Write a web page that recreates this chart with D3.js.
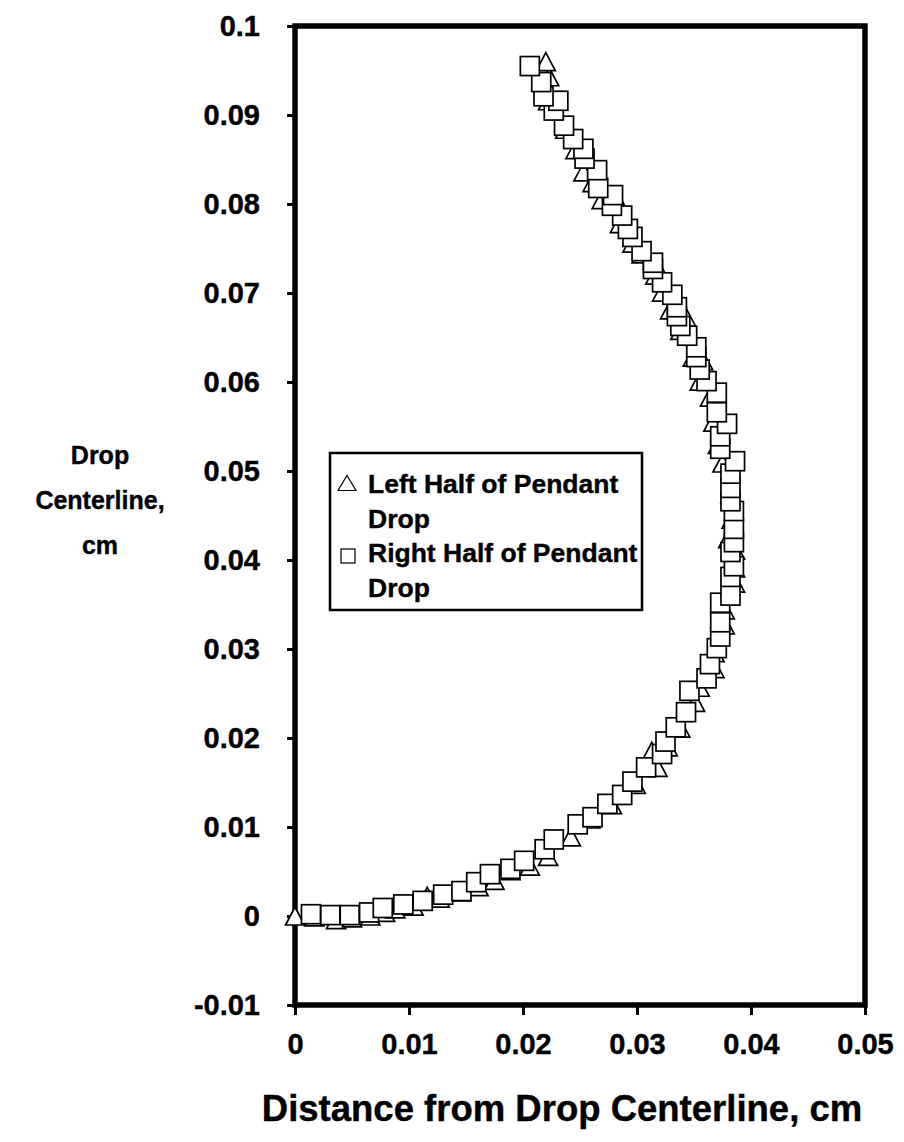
<!DOCTYPE html>
<html>
<head>
<meta charset="utf-8">
<script src="https://cdn.jsdelivr.net/npm/d3@7/dist/d3.min.js"></script>
<style>
  html, body { margin: 0; padding: 0; background: #fff; }
  svg { display: block; }
  text { font-family: "Liberation Sans", Arial, sans-serif; font-weight: bold; fill: #000; stroke: #000; stroke-width: 0.4px; }
</style>
</head>
<body>
<svg id="chart" width="904" height="1142"></svg>
<script>
// Pendant drop profile: radial distance (cm) vs height along the drop centerline (cm)
const xTickValues = [0, 0.01, 0.02, 0.03, 0.04, 0.05];
const xTickLabels = ["0", "0.01", "0.02", "0.03", "0.04", "0.05"];
const yTickValues = [-0.01, 0, 0.01, 0.02, 0.03, 0.04, 0.05, 0.06, 0.07, 0.08, 0.09, 0.1];
const yTickLabels = ["-0.01", "0", "0.01", "0.02", "0.03", "0.04", "0.05", "0.06", "0.07", "0.08", "0.09", "0.1"];

const seriesNames = ["Left Half of Pendant Drop", "Right Half of Pendant Drop"];

// Left half of the drop (triangles)
const leftX = [0, 0.0017, 0.0036, 0.0050, 0.0066, 0.0079, 0.0088, 0.0104, 0.0116, 0.0127,
  0.0146, 0.0161, 0.0175, 0.0189, 0.0206, 0.0222, 0.0242, 0.0259, 0.0278, 0.0299,
  0.0318, 0.0313, 0.0327, 0.0338, 0.0351, 0.0355, 0.0368, 0.0368, 0.0377, 0.0377,
  0.0386, 0.0386, 0.0386, 0.0380, 0.0383, 0.0382, 0.0375, 0.0371, 0.0367, 0.0364,
  0.0355, 0.0358, 0.0349, 0.0338, 0.0343, 0.0329, 0.0322, 0.0316, 0.0316, 0.0304,
  0.0296, 0.0285, 0.0269, 0.0281, 0.0261, 0.0253, 0.0246, 0.0237, 0.0222, 0.0223,
  0.0220];
const leftY = [0, -0.0001, -0.0004, -0.0002, 0.0000, 0.0004, 0.0008, 0.0011, 0.0022, 0.0020,
  0.0027, 0.0033, 0.0040, 0.0051, 0.0056, 0.0067, 0.0089, 0.0109, 0.0125, 0.0148,
  0.0167, 0.0185, 0.0190, 0.0211, 0.0240, 0.0257, 0.0278, 0.0296, 0.0327, 0.0344,
  0.0374, 0.0391, 0.0411, 0.0424, 0.0446, 0.0474, 0.0509, 0.0530, 0.0555, 0.0583,
  0.0601, 0.0624, 0.0628, 0.0658, 0.0673, 0.0681, 0.0701, 0.0720, 0.0733, 0.0744,
  0.0756, 0.0778, 0.0805, 0.0808, 0.0824, 0.0836, 0.0861, 0.0884, 0.0916, 0.0943,
  0.0960];

// Right half of the drop (squares)
const rightX = [0.0014, 0.0031, 0.0048, 0.0065, 0.0077, 0.0095, 0.0112, 0.0130, 0.0146, 0.0159,
  0.0171, 0.0189, 0.0201, 0.0219, 0.0227, 0.0248, 0.0261, 0.0274, 0.0287, 0.0296,
  0.0308, 0.0322, 0.0325, 0.0334, 0.0343, 0.0346, 0.0361, 0.0364, 0.0370, 0.0373,
  0.0373, 0.0373, 0.0382, 0.0382, 0.0385, 0.0382, 0.0385, 0.0385, 0.0385, 0.0382,
  0.0382, 0.0382, 0.0386, 0.0373, 0.0373, 0.0379, 0.0370, 0.0370, 0.0361, 0.0355,
  0.0352, 0.0352, 0.0344, 0.0338, 0.0335, 0.0335, 0.0331, 0.0322, 0.0314, 0.0314,
  0.0304, 0.0296, 0.0292, 0.0287, 0.0278, 0.0279, 0.0266, 0.0265, 0.0254, 0.0253,
  0.0244, 0.0236, 0.0227, 0.0231, 0.0218, 0.0216, 0.0206];
const rightY = [0.0002, 0.0001, 0.0001, 0.0004, 0.0009, 0.0013, 0.0017, 0.0024, 0.0028, 0.0038,
  0.0047, 0.0053, 0.0062, 0.0075, 0.0086, 0.0103, 0.0111, 0.0126, 0.0136, 0.0151,
  0.0167, 0.0182, 0.0196, 0.0212, 0.0229, 0.0253, 0.0267, 0.0283, 0.0301, 0.0314,
  0.0330, 0.0352, 0.0360, 0.0381, 0.0393, 0.0409, 0.0420, 0.0435, 0.0455, 0.0466,
  0.0481, 0.0497, 0.0511, 0.0525, 0.0539, 0.0553, 0.0566, 0.0588, 0.0601, 0.0614,
  0.0628, 0.0639, 0.0652, 0.0663, 0.0674, 0.0684, 0.0698, 0.0712, 0.0727, 0.0734,
  0.0747, 0.0763, 0.0772, 0.0787, 0.0798, 0.0810, 0.0818, 0.0838, 0.0851, 0.0862,
  0.0873, 0.0888, 0.0905, 0.0916, 0.0921, 0.0937, 0.0955];

const svg = d3.select("#chart");

const plot = { left: 295, right: 865, top: 26, bottom: 1005 };
const x = d3.scaleLinear().domain([0, 0.05]).range([plot.left, plot.right]);
const y = d3.scaleLinear().domain([-0.01, 0.1]).range([plot.bottom, plot.top]);

// axes with outward ticks
const yAxis = d3.axisLeft(y).tickValues(yTickValues).tickSize(8).tickPadding(27)
  .tickFormat((d, i) => yTickLabels[i]);
const xAxis = d3.axisBottom(x).tickValues(xTickValues).tickSize(10).tickPadding(18)
  .tickFormat((d, i) => xTickLabels[i]);

const gy = svg.append("g").attr("transform", `translate(${plot.left},0)`).call(yAxis);
const gx = svg.append("g").attr("transform", `translate(0,${plot.bottom})`).call(xAxis);
[gy, gx].forEach(g => {
  g.select(".domain").remove();
  g.selectAll(".tick line").attr("stroke", "#000").attr("stroke-width", 3);
  g.selectAll(".tick text").style("font-size", "29px").attr("fill", "#000");
});
gx.selectAll(".tick text").attr("dy", "0.71em");

// plot frame
svg.append("rect")
  .attr("x", plot.left).attr("y", plot.top)
  .attr("width", plot.right - plot.left).attr("height", plot.bottom - plot.top)
  .attr("fill", "none").attr("stroke", "#000").attr("stroke-width", 5.5);

// marker shapes
const triW = 19, triH = 18, sq = 19;
const triPath = `M0,${-triH / 2}L${triW / 2},${triH / 2}L${-triW / 2},${triH / 2}Z`;

const left = leftX.map((v, i) => ({ x: v, y: leftY[i] }));
const right = rightX.map((v, i) => ({ x: v, y: rightY[i] }));

const marks = svg.append("g");
marks.selectAll("path.left").data(left).join("path")
  .attr("class", "left")
  .attr("d", triPath)
  .attr("transform", d => `translate(${x(d.x)},${y(d.y)})`)
  .attr("fill", "#fff").attr("stroke", "#000").attr("stroke-width", 1.7)
  .attr("stroke-linejoin", "miter");

marks.selectAll("rect.right").data(right).join("rect")
  .attr("class", "right")
  .attr("x", d => x(d.x) - sq / 2).attr("y", d => y(d.y) - sq / 2)
  .attr("width", sq).attr("height", sq)
  .attr("fill", "#fff").attr("stroke", "#000").attr("stroke-width", 1.7);

// legend
const lg = svg.append("g").attr("transform", "translate(330,453)");
lg.append("rect").attr("width", 312).attr("height", 157)
  .attr("fill", "#fff").attr("stroke", "#000").attr("stroke-width", 2.5);
lg.append("path")
  .attr("d", "M0,-7.5L9,7.5L-9,7.5Z")
  .attr("transform", "translate(17,30)")
  .attr("fill", "#fff").attr("stroke", "#000").attr("stroke-width", 1.2);
lg.append("rect").attr("x", 11).attr("y", 96).attr("width", 14).attr("height", 14)
  .attr("fill", "#fff").attr("stroke", "#000").attr("stroke-width", 1.2);
const legendLines = [["Left Half of Pendant", "Drop"], ["Right Half of Pendant", "Drop"]];
legendLines.forEach((lines, k) => {
  lines.forEach((t, j) => {
    lg.append("text").attr("x", 38).attr("y", 40 + k * 69 + j * 35)
      .style("font-size", "26.5px").text(t);
  });
});

// axis titles
svg.append("text").attr("x", 562).attr("y", 1121).attr("text-anchor", "middle")
  .style("font-size", "36.5px").text("Distance from Drop Centerline, cm");
const yTitle = svg.append("text").attr("text-anchor", "middle").style("font-size", "25px");
["Drop", "Centerline,", "cm"].forEach((t, i) => {
  yTitle.append("tspan").attr("x", 100).attr("y", 464 + i * 45).text(t);
});
</script>
</body>
</html>
